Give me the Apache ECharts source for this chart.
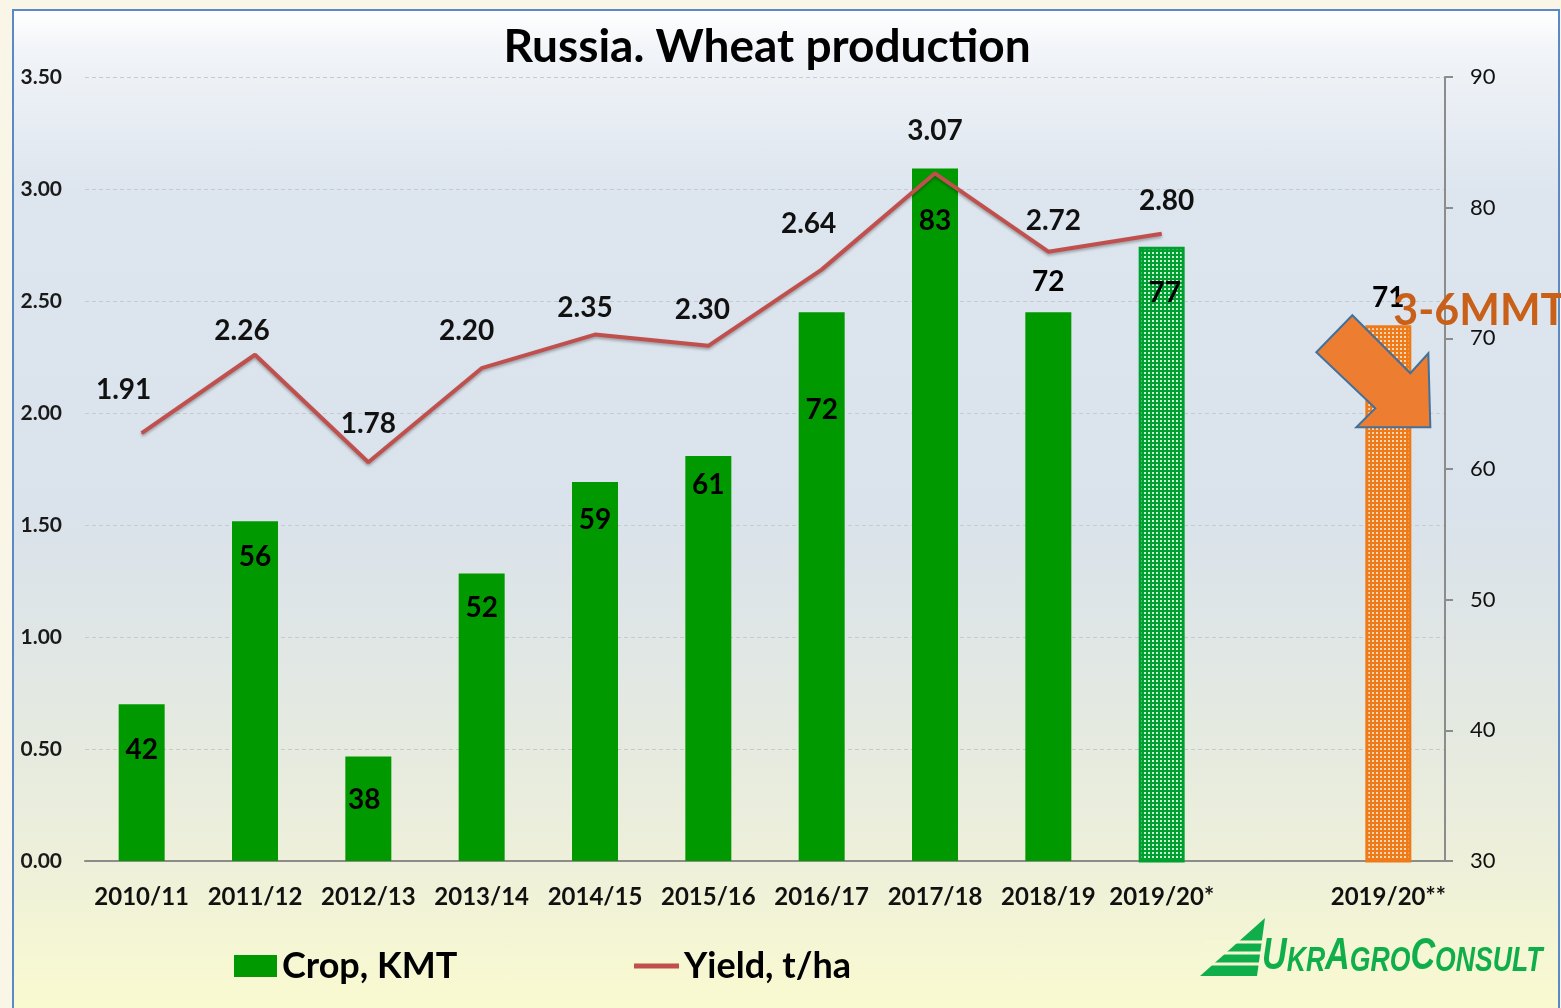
<!DOCTYPE html>
<html><head><meta charset="utf-8">
<script src="https://cdn.jsdelivr.net/npm/echarts@6/dist/echarts.min.js"></script>
<style>
html,body{margin:0;padding:0;background:#f9f6e7;width:1561px;height:1008px;overflow:hidden;}
#bg{position:absolute;left:12px;top:9px;width:1544px;height:1010px;border:2px solid #5a89c8;
background:linear-gradient(to bottom,#ffffff 0%,#f1f4f8 4%,#dde5ee 18%,#dae2eb 50%,#e4e9e1 70%,#eef0d9 85%,#fbfbcf 100%);}
#c{position:absolute;left:0;top:0;width:1561px;height:1008px;}
</style>
</head><body><div id="bg"></div><div id="c"></div>
<script>
// ---- data ----
const categories = ['2010/11','2011/12','2012/13','2013/14','2014/15','2015/16','2016/17','2017/18','2018/19','2019/20*','','2019/20**'];
const cropKMT   = [42, 56, 38, 52, 59, 61, 72, 83, 72, 77, null, 71];
const yieldTHa  = [1.91, 2.26, 1.78, 2.20, 2.35, 2.30, 2.64, 3.07, 2.72, 2.80, null, null];
const yieldTicks = {min: 0, max: 3.5, interval: 0.5};
const cropTicks  = {min: 30, max: 90, interval: 10};
const seriesNames = ['Crop, KMT', 'Yield, t/ha'];
const annotationText = '3-6MMT';

// ---- styling (not data) ----
const barPattern   = [null,null,null,null,null,null,null,null,null,'green',null,'orange'];
const barLabelDy   = [46, 36, 44, 34, 38, 29, 98, 53, -30, 46, 0, -27];
const barLabelDx   = [0, 0, -4, 0, 0, 0, 0, 0, 0, 3, 0, 0];
const lineLabelOff = [[-18,-43],[-13,-24],[0,-38],[-15,-37],[-10,-27],[-6,-36],[-13,-46],[0,-42],[5,-31],[5,-33],[0,0],[0,0]];
const FONT = 'Lato, "Open Sans", sans-serif';
const GREEN = '#009a00', ORANGE = '#ee7a18', RED = '#c0504d';

function makePattern(base, alpha) {
  const n = 8, s = 2;
  const c = document.createElement('canvas');
  c.width = n * s; c.height = n * s;
  const g = c.getContext('2d');
  g.fillStyle = base; g.fillRect(0, 0, n * s, n * s);
  g.fillStyle = 'rgba(255,255,255,' + alpha + ')';
  for (let y = 0; y < n; y++) for (let x = 0; x < n; x++) {
    const onGrid = (x % 4 === 0) || (y % 4 === 0);
    const dot = (x % 4 === 2 && y % 4 === 2);
    if ((onGrid && (x + y) % 2 === 0) || dot) g.fillRect(x * s, y * s, s, s);
  }
  return {image: c, repeat: 'repeat'};
}
const patterns = {green: makePattern('#00a030', 0.8), orange: makePattern(ORANGE, 0.7)};
const patternBorder = {green: '#00a030', orange: ORANGE};

const barData = cropKMT.map((v, i) => {
  const item = {
    value: v,
    label: {position: ['50%', barLabelDy[i]], offset: [barLabelDx[i], 0]}
  };
  if (barPattern[i]) {
    item.itemStyle = {color: patterns[barPattern[i]], borderColor: patternBorder[barPattern[i]], borderWidth: 3};
  }
  return item;
});
const lineData = yieldTHa.map((v, i) => ({value: v, label: {offset: lineLabelOff[i]}}));

const chart = echarts.init(document.getElementById('c'), null, {renderer: 'canvas'});
const option = {
  backgroundColor: 'transparent',
  animation: false,
  title: {
    text: 'Russia. Wheat production', left: 762, top: 19, textAlign: 'center',
    textStyle: {fontFamily: FONT, fontSize: 46, fontWeight: 'bold', color: '#000'}
  },
  legend: [
    {data: [seriesNames[0]], left: 229, top: 943, icon: 'rect', itemWidth: 43, itemHeight: 22, selectedMode: false,
     textStyle: {fontFamily: FONT, fontSize: 36, fontWeight: 'bold', color: '#000'}},
    {data: [{name: seriesNames[1], icon: 'rect'}], left: 629, top: 943, itemWidth: 45, itemHeight: 5, selectedMode: false,
     itemStyle: {color: RED},
     textStyle: {fontFamily: FONT, fontSize: 36, fontWeight: 'bold', color: '#000'}}
  ],
  grid: {left: 85, right: 116, top: 77, bottom: 147, containLabel: false},
  xAxis: {
    type: 'category', data: categories,
    axisTick: {show: false},
    axisLine: {lineStyle: {color: '#8c8c8c', width: 2}},
    axisLabel: {fontFamily: FONT, fontSize: 24, fontWeight: 'bold', color: '#111', margin: 24, interval: 0}
  },
  yAxis: [
    {type: 'value', position: 'left', min: yieldTicks.min, max: yieldTicks.max, interval: yieldTicks.interval,
     axisLine: {show: false}, axisTick: {show: false},
     splitLine: {lineStyle: {color: '#c6cad0', type: [4, 3], width: 1}},
     axisLabel: {formatter: v => v.toFixed(2), fontFamily: FONT, fontSize: 21, fontWeight: 'bold', color: '#1a1a1a', margin: 23}},
    {type: 'value', position: 'right', min: cropTicks.min, max: cropTicks.max, interval: cropTicks.interval,
     axisLine: {show: true, lineStyle: {color: '#8c8c8c', width: 2}},
     axisTick: {show: true, length: 8, lineStyle: {color: '#8c8c8c', width: 2}},
     splitLine: {show: false},
     axisLabel: {fontFamily: FONT, fontSize: 22, color: '#111', margin: 25}}
  ],
  series: [
    {name: seriesNames[0], type: 'bar', yAxisIndex: 1, data: barData, barWidth: 46,
     itemStyle: {color: GREEN},
     label: {show: true, align: 'center', verticalAlign: 'middle',
             fontFamily: FONT, fontSize: 28, fontWeight: 'bold', color: '#000'}},
    {name: seriesNames[1], type: 'line', yAxisIndex: 0, data: lineData,
     symbol: 'circle', symbolSize: 1, showSymbol: true, connectNulls: false,
     itemStyle: {color: RED},
     lineStyle: {color: RED, width: 4, shadowColor: 'rgba(0,0,0,0.3)', shadowBlur: 3, shadowOffsetY: 2},
     label: {show: true, position: 'inside', align: 'center', verticalAlign: 'middle',
             formatter: p => p.value.toFixed(2),
             fontFamily: FONT, fontSize: 28, fontWeight: 'bold', color: '#111'}}
  ]
};
chart.setOption(option);

// ---- annotation arrow anchored to the 2019/20** bar ----
const ai = categories.length - 1;
const p = chart.convertToPixel({xAxisIndex: 0, yAxisIndex: 1}, [ai, cropKMT[ai]]);
const rel = [[-72,27],[-36,-10],[22,48],[40,28],[42,102],[-32,102],[-13,83]];
const arrowPts = rel.map(r => [p[0] + r[0], p[1] + r[1]]);
const LOGO = '#10ae4a', LOGOBG = '#f6f7d4';
chart.setOption({
  graphic: [
    {type: 'polygon', z: 100, shape: {points: arrowPts},
     style: {fill: '#ed7d31', stroke: '#41719c', lineWidth: 2}},
    {type: 'text', z: 101, x: p[0] + 5, y: p[1] - 14,
     style: {text: annotationText, fill: '#c8601a', font: 'bold 43px ' + FONT, textVerticalAlign: 'middle'}},
    {type: 'group', z: 100, children: [
      {type: 'polygon', shape: {points: [[1265,918],[1257,976],[1200,976]]}, style: {fill: LOGO}},
      {type: 'line', shape: {x1: 1205, y1: 942, x2: 1268, y2: 942}, style: {stroke: LOGOBG, lineWidth: 3}},
      {type: 'line', shape: {x1: 1205, y1: 953, x2: 1268, y2: 953}, style: {stroke: LOGOBG, lineWidth: 3}},
      {type: 'line', shape: {x1: 1200, y1: 964, x2: 1268, y2: 964}, style: {stroke: LOGOBG, lineWidth: 3}},
      {type: 'text', x: 1262, y: 979, scaleX: 0.76,
       style: {text: '{b|U}{s|KR}{b|A}{s|GRO}{b|C}{s|ONSULT}', textVerticalAlign: 'bottom',
               rich: {
                 b: {fontSize: 45, fontWeight: 'bold', fontStyle: 'italic', fontFamily: '"Liberation Sans", Arial, sans-serif', fill: LOGO, verticalAlign: 'bottom'},
                 s: {fontSize: 35, fontWeight: 'bold', fontStyle: 'italic', fontFamily: '"Liberation Sans", Arial, sans-serif', fill: LOGO, verticalAlign: 'bottom'}
               }}}
    ]}
  ]
});
</script>
</body></html>
